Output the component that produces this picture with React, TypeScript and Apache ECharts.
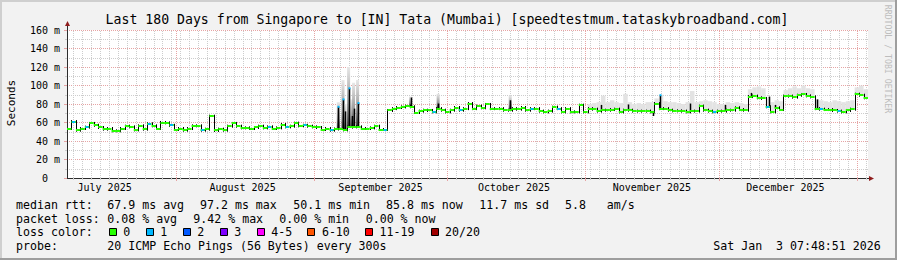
import React, { useEffect, useRef } from 'react';
import * as echarts from 'echarts';

// ---------- data ----------
const TITLE = 'Last 180 Days from Singapore to [IN] Tata (Mumbai) [speedtestmum.tataskybroadband.com]';
const Y_AXIS_NAME = 'Seconds';
const WATERMARK = 'RRDTOOL / TOBI OETIKER';

// days since start of the 180-day window
const monthStartDays = [24.45, 55.45, 85.45, 116.45, 146.45, 177.45];
const monthLabelDays = [8.45, 39.45, 70.45, 100.45, 131.45, 161.45];
const monthLabels = ['July 2025', 'August 2025', 'September 2025', 'October 2025', 'November 2025', 'December 2025'];

// daily median rtt (ms), one value per day
const median = [
  53.5, 61, 51.7, 53.5, 55, 59, 57, 54.6, 52.8, 53.5,
  51, 51, 53.5, 56, 55.3, 52, 56.4, 52.8, 58.6, 56.4,
  53.5, 60, 59.6, 57, 52.4, 53.5, 51.7, 53.5, 56.4, 56.4,
  51.7, 52.8, 66.8, 51.4, 52.8, 51.7, 56, 59, 56, 54.2,
  54.2, 53.5, 54.6, 56, 54.2, 55.3, 53.5, 54.2, 57.8, 55.3,
  56, 59.3, 56.4, 57, 56, 55.3, 54.6, 52.4, 53.5, 51.7,
  53, 53.5, 52, 55, 55.3, 55.3, 53.5, 53.5, 54.2, 56,
  52.4, 52.4, 73, 75, 76.2, 76.9, 77.7, 77, 70.8, 72.3,
  73.3, 73, 71.5, 75, 73.3, 71.5, 73.3, 76.2, 73.3, 75,
  80.5, 75, 77.7, 75.9, 79.5, 75, 75, 75, 73.3, 73.3,
  75, 74.4, 76.2, 73.3, 75, 75, 72.3, 71.5, 72.3, 76.6,
  75, 71.5, 75, 71.5, 71.5, 78.7, 71.5, 75, 74.4, 72.3,
  73.3, 73.3, 74, 74.4, 71.5, 73.3, 73.3, 72.3, 72.3, 72.3,
  72.3, 71.5, 80.5, 75, 75, 73.3, 72.6, 72.6, 72.3, 71.5,
  72.3, 72.3, 77.7, 73.3, 72.3, 71.5, 72.3, 72.3, 73.3, 73.3,
  75.9, 74, 73.3, 88, 88.5, 86.7, 86, 77, 71.5, 75.9,
  74, 88.5, 88.5, 87.4, 89.5, 90.3, 88.8, 87.7, 75, 74.4,
  74, 74, 73, 72.3, 71.5, 73, 74.4, 90.6, 89.5, 86.7,
];
// days on which 1 of 20 pings was lost
const lossDays = [1, 4, 18, 23, 30, 45, 49, 53, 59, 71, 82, 88, 104, 110, 145, 157, 169, 173];

// light smoke (max rtt) from day smokeStart onward
const smokeStart = 117;
const smokeTop = [
  80, 81, 82, 89, 82, 84, 82, 81, 91, 82,
  80, 81, 80, 82, 82, 86, 90, 83, 82, 82,
  81, 80, 82, 94, 82, 83, 84, 83, 82, 80,
  80, 82, 81, 82, 81, 80, 96, 98, 99, 97,
  86, 82, 84, 83, 95, 97, 99, 97, 100, 97,
  96, 85, 84, 83, 82, 84, 83, 82, 83, 84,
  98, 100, 96,
];

// short spikes
const spikeDay = [60.97, 62.02, 62.45, 63.28, 64.0, 64.4, 65.3, 77.2, 83.4, 99.6, 120.1, 126.1, 131.7, 133.2, 139.9, 147.9, 153.6, 157.7, 159.2, 168.5];
const spikeTop = [77, 85, 72, 97, 67, 75, 81, 87, 80.5, 84, 79, 79.5, 67, 89.5, 80.5, 79, 92, 88, 79, 85];
const spikeSmoke = [82, 106, 80, 120, 85, 103, 106, 88, 91, 89, 0, 0, 0, 0, 0, 0, 0, 0, 0, 0];
const spikeLoss = [1, 1, 0, 1, 0, 0, 1, 0, 0, 0, 0, 0, 0, 1, 0, 0, 0, 0, 0, 0];

// legend
const rttStats = ['67.9 ms avg', '97.2 ms max', '50.1 ms min', '85.8 ms now', '11.7 ms sd', '5.8', 'am/s'];
const lossStats = ['0.08 % avg', '9.42 % max', '0.00 % min', '0.00 % now'];
const lossColorLabels = ['0', '1', '2', '3', '4-5', '6-10', '11-19', '20/20'];
const lossColors = ['#26ff00', '#00b8ff', '#0059ff', '#7e00ff', '#ff00ff', '#ff5500', '#ff0000', '#a10000'];
const probeText = '20 ICMP Echo Pings (56 Bytes) every 300s';
const dateLeft = 'Sat Jan';
const dateRight = '3 07:48:51 2026';

// ---------- styling / layout ----------
const MONO = '"DejaVu Sans Mono", monospace';
const BACK = '#f2f2f2';
const GRID = '#cdcdcd';
const MGRID = '#e6a4a4';
const AXIS = '#2c2c2c';
const ARROW = '#8f1d1d';

const rttX = [107.3, 200, 293.3, 386, 479.3, 565, 606.7];
const lossX = [107.3, 193.3, 279.3, 365.7];
const boxX = [108.7, 145.7, 182.7, 219.7, 256.7, 307.3, 365, 430.5];
const rowY = [204.5, 218.5, 232.3, 246.2];

export default function App() {
  const ref = useRef<HTMLDivElement>(null);

  useEffect(() => {
    document.body.style.margin = '0';
    const el = ref.current!;
    const chart = echarts.init(el, null, { renderer: 'svg' });

    const minorDays: number[] = [];
    for (let d = 1.45; d < 180; d += 2) {
      if (!monthStartDays.some((m) => Math.abs(m - d) < 0.01)) minorDays.push(d);
    }
    const vgridData = [
      ...minorDays.map((d) => [d, 0]),
      ...monthStartDays.map((d) => [d, 1]),
    ];

    const crisp = (v: number) => Math.round(v) + 0.5;

    const medianData = median.map((v, k) => [k, v, lossDays.includes(k) ? 1 : 0]);
    const connData = median.slice(1).map((v, i) => [i + 1, median[i], v]);
    const smokeData = smokeTop.map((t, i) => [smokeStart + i, median[smokeStart + i], t]);
    const spikeData = spikeDay.map((d, i) => [d, median[Math.floor(d)], spikeTop[i], spikeSmoke[i], spikeLoss[i]]);
    const monthData = monthLabelDays.map((d, i) => [d, 0, i]);

    const option: any = {
      animation: false,
      backgroundColor: BACK,
      grid: {
        left: 67, top: 30, width: 801, height: 148,
        show: true, backgroundColor: '#ffffff', borderWidth: 0,
      },
      xAxis: {
        type: 'value', min: 0, max: 180,
        axisLine: { show: true, onZero: false, lineStyle: { color: AXIS, width: 1 } },
        axisTick: { show: false }, axisLabel: { show: false }, splitLine: { show: false },
      },
      yAxis: {
        type: 'value', min: 0, max: 160, interval: 20,
        axisLine: { show: true, lineStyle: { color: AXIS, width: 1 } },
        axisTick: { show: true, length: 3, lineStyle: { color: MGRID } },
        minorTick: { show: true, splitNumber: 2, length: 2, lineStyle: { color: GRID } },
        axisLabel: {
          color: '#000', fontFamily: MONO, fontSize: 10, margin: 7,
          formatter: (v: number) => (v === 0 ? '{z|0}' : `${v} m`),
          rich: { z: { fontFamily: MONO, fontSize: 10, color: '#000', padding: [0, 12, 0, 0] } },
        },
        splitLine: { show: true, lineStyle: { color: MGRID, type: [1, 1] } },
        minorSplitLine: { show: true, lineStyle: { color: GRID, type: [1, 1] } },
      },
      series: [
        {
          type: 'custom', name: 'vgrid', z: 1, silent: true,
          encode: { x: 0, y: 1 }, data: vgridData,
          renderItem: (_p: any, api: any) => {
            const d = api.value(0);
            const major = api.value(1) === 1;
            const b = api.coord([d, 0]);
            const t = api.coord([d, 160]);
            const x = crisp(b[0]);
            const c = major ? MGRID : GRID;
            return {
              type: 'group',
              children: [
                { type: 'line', shape: { x1: x, y1: b[1], x2: x, y2: t[1] }, style: { stroke: c, lineWidth: 1, lineDash: [1, 1] } },
                { type: 'line', shape: { x1: x, y1: b[1], x2: x, y2: b[1] + (major ? 3 : 2) }, style: { stroke: c, lineWidth: 1 } },
              ],
            };
          },
        },
        {
          type: 'custom', name: 'smoke', z: 2, silent: true,
          encode: { x: 0, y: 2 }, data: smokeData,
          renderItem: (_p: any, api: any) => {
            const k = api.value(0);
            const a = api.coord([k, api.value(2)]);
            const b = api.coord([k + 1, api.value(1)]);
            return {
              type: 'rect',
              shape: { x: a[0], y: a[1], width: b[0] - a[0], height: b[1] - a[1] },
              style: { fill: '#e3e3e3' },
            };
          },
        },
        {
          type: 'custom', name: 'spikeSmoke', z: 3, silent: true,
          encode: { x: 0, y: 3 }, data: spikeData,
          renderItem: (_p: any, api: any) => {
            const d = api.value(0);
            const base = api.value(1);
            const sm = api.value(3);
            if (!sm) return null;
            const b = api.coord([d, base]);
            const t = api.coord([d, sm]);
            return {
              type: 'rect',
              shape: { x: b[0] - 1.5, y: t[1], width: 3, height: b[1] - t[1] },
              style: {
                fill: new echarts.graphic.LinearGradient(0, 0, 0, 1, [
                  { offset: 0, color: '#e8e8e8' },
                  { offset: 0.6, color: '#9a9a9a' },
                  { offset: 1, color: '#303030' },
                ]),
              },
            };
          },
        },
        {
          type: 'custom', name: 'connectors', z: 4, silent: true,
          encode: { x: 0, y: 2 }, data: connData,
          renderItem: (_p: any, api: any) => {
            const k = api.value(0);
            const a = api.coord([k, api.value(1)]);
            const b = api.coord([k, api.value(2)]);
            const x = crisp(a[0]);
            const top = Math.min(a[1], b[1]) - 1.5;
            const bot = Math.max(a[1], b[1]) + 1.5;
            return { type: 'line', shape: { x1: x, y1: top, x2: x, y2: bot }, style: { stroke: '#000', lineWidth: 1 } };
          },
        },
        {
          type: 'custom', name: 'spikes', z: 5, silent: true,
          encode: { x: 0, y: 2 }, data: spikeData,
          renderItem: (_p: any, api: any) => {
            const d = api.value(0);
            const b = api.coord([d, api.value(1)]);
            const t = api.coord([d, api.value(2)]);
            const x = crisp(b[0]);
            const children: any[] = [
              { type: 'line', shape: { x1: x, y1: b[1], x2: x, y2: t[1] }, style: { stroke: '#000', lineWidth: 1.5 } },
            ];
            if (api.value(4) === 1) {
              children.push({ type: 'line', shape: { x1: x - 1, y1: t[1], x2: x + 1, y2: t[1] }, style: { stroke: lossColors[1], lineWidth: 2 } });
            }
            return { type: 'group', children };
          },
        },
        {
          type: 'custom', name: 'median', z: 6, silent: true,
          encode: { x: 0, y: 1 }, data: medianData,
          renderItem: (_p: any, api: any) => {
            const k = api.value(0);
            const a = api.coord([k, api.value(1)]);
            const b = api.coord([k + 1, api.value(1)]);
            const y = Math.round(a[1]);
            const children: any[] = [
              { type: 'line', shape: { x1: a[0], y1: y, x2: b[0], y2: y }, style: { stroke: lossColors[0], lineWidth: 2 } },
            ];
            if (api.value(2) === 1) {
              const m = (a[0] + b[0]) / 2;
              children.push({ type: 'line', shape: { x1: m - 1.5, y1: y, x2: m + 1.5, y2: y }, style: { stroke: lossColors[1], lineWidth: 2 } });
            }
            return { type: 'group', children };
          },
        },
        {
          type: 'custom', name: 'months', z: 6, silent: true,
          encode: { x: 0, y: 1 }, data: monthData,
          renderItem: (_p: any, api: any) => {
            const p = api.coord([api.value(0), 0]);
            return {
              type: 'text', x: p[0], y: p[1] + 9.7,
              style: {
                text: monthLabels[api.value(2)], fill: '#000', font: `10px ${MONO}`,
                align: 'center', verticalAlign: 'middle', textAlign: 'center', textVerticalAlign: 'middle',
              },
            };
          },
        },
      ],
    };

    chart.setOption(option);

    const o = chart.convertToPixel({ gridIndex: 0 }, [0, 0]) as number[];
    const e = chart.convertToPixel({ gridIndex: 0 }, [180, 160]) as number[];
    const ax = Math.round(o[0]) + 0.5;
    const ay = Math.round(o[1]) + 0.5;
    const ex = e[0];
    const ey = e[1];

    const txt = (text: string, x: number, y: number, extra: any = {}) => ({
      type: 'text', x, y, silent: true,
      style: {
        text, fill: extra.fill || '#000', font: extra.font || `11.6px ${MONO}`,
        align: extra.align || 'left', textAlign: extra.align || 'left',
        verticalAlign: 'middle', textVerticalAlign: 'middle',
      },
      rotation: extra.rotation || 0,
    });

    const graphics: any[] = [
      // 3D frame
      { type: 'rect', shape: { x: 0, y: 0, width: 897, height: 2 }, style: { fill: '#cfcfcf' }, silent: true },
      { type: 'rect', shape: { x: 0, y: 0, width: 2, height: 260 }, style: { fill: '#cfcfcf' }, silent: true },
      { type: 'rect', shape: { x: 0, y: 258, width: 897, height: 2 }, style: { fill: '#9e9e9e' }, silent: true },
      { type: 'rect', shape: { x: 895, y: 0, width: 2, height: 260 }, style: { fill: '#9e9e9e' }, silent: true },
      txt(TITLE, 447, 19, { font: `13.2px ${MONO}`, align: 'center' }),
      txt(Y_AXIS_NAME, 11, 103, { font: `11px ${MONO}`, align: 'center', rotation: Math.PI / 2 }),
      txt(WATERMARK, 887.5, 59, { font: `8.2px ${MONO}`, align: 'center', rotation: -Math.PI / 2, fill: '#bdbdbd' }),
      // axis arrows
      { type: 'line', shape: { x1: ex, y1: ay, x2: ex + 1, y2: ay }, style: { stroke: AXIS, lineWidth: 1 }, silent: true },
      { type: 'polygon', shape: { points: [[ex + 1, ay - 2.5], [ex + 6, ay], [ex + 1, ay + 2.5]] }, style: { fill: ARROW }, silent: true },
      { type: 'line', shape: { x1: ax, y1: ey, x2: ax, y2: ey - 4 }, style: { stroke: AXIS, lineWidth: 1 }, silent: true },
      { type: 'polygon', shape: { points: [[ax - 2.5, ey - 4], [ax, ey - 9], [ax + 2.5, ey - 4]] }, style: { fill: ARROW }, silent: true },
      // legend
      txt('median rtt:', 16, rowY[0]),
      ...rttStats.map((s, i) => txt(s, rttX[i], rowY[0])),
      txt('packet loss:', 16, rowY[1]),
      ...lossStats.map((s, i) => txt(s, lossX[i], rowY[1])),
      txt('loss color:', 16, rowY[2]),
      ...lossColorLabels.map((s, i) => txt(s, boxX[i] + 14.6, rowY[2])),
      ...lossColors.map((c, i) => ({
        type: 'rect', silent: true,
        shape: { x: Math.round(boxX[i]) + 0.5, y: Math.round(rowY[2] - 4) + 0.5, width: 7, height: 7 },
        style: { fill: c, stroke: '#000', lineWidth: 1 },
      })),
      txt('probe:', 16, rowY[3]),
      txt(probeText, 107.3, rowY[3]),
      txt(dateLeft, 713.3, rowY[3]),
      txt(dateRight, 880.7, rowY[3], { align: 'right' }),
    ];

    chart.setOption({ graphic: graphics });

    return () => chart.dispose();
  }, []);

  return <div ref={ref} style={{ width: 897, height: 260, background: BACK }} />;
}
